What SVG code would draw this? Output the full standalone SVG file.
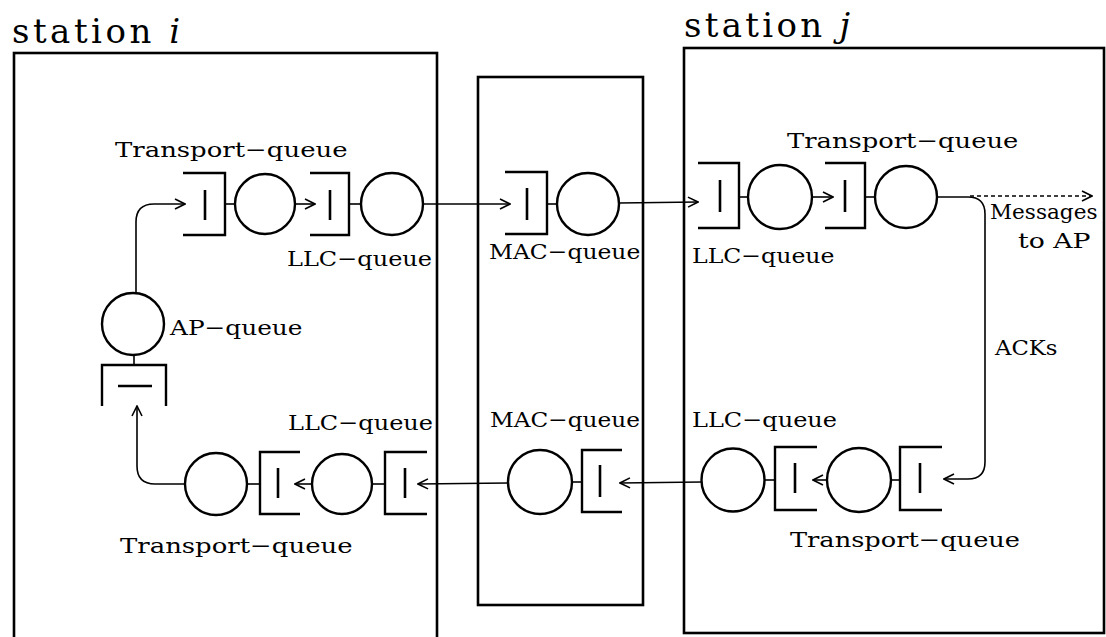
<svg xmlns="http://www.w3.org/2000/svg" width="1106" height="637" viewBox="0 0 1106 637">
<defs>
<style>
.box{fill:none;stroke:#000;stroke-width:2.6}
.q{fill:none;stroke:#000;stroke-width:2.4}
.bar{stroke:#000;stroke-width:2.6}
.c{fill:none;stroke:#000;stroke-width:1.6}
.dash{stroke-dasharray:4 3}
text{font-family:"DejaVu Serif","Liberation Serif",serif;fill:#000}
.lbl{font-size:21px}
.st{font-size:34px}
</style>
<marker id="arr" viewBox="0 0 12 12" refX="11" refY="6" markerWidth="12" markerHeight="12" markerUnits="userSpaceOnUse" orient="auto">
<path d="M1 1 L11 6 L1 11" fill="none" stroke="#000" stroke-width="1.6"/>
</marker>
</defs>
<rect width="1106" height="637" fill="#fff"/>

<g id="station-i">
<rect class="box" x="14" y="53" width="423" height="600"/>
<text class="st" x="12" y="43" textLength="168" lengthAdjust="spacing">station <tspan font-style="italic">i</tspan></text>
</g>
<g id="mac-layer">
<rect class="box" x="478" y="77" width="165" height="528"/>
</g>
<g id="station-j">
<rect class="box" x="684" y="48" width="420" height="585"/>
<text class="st" x="684" y="37" textLength="166" lengthAdjust="spacing">station <tspan font-style="italic">j</tspan></text>
</g>

<!-- station i top row -->
<g id="i-transport-top">
<path class="q" d="M183 173 H225 V235 H183"/>
<line class="bar" x1="205" y1="190" x2="205" y2="220"/>
<line class="c" x1="225" y1="204" x2="235" y2="204"/>
<circle class="q" cx="265" cy="204" r="30"/>
<text class="lbl" transform="translate(115 157) scale(1.25 1)" textLength="186" lengthAdjust="spacingAndGlyphs">Transport−queue</text>
</g>
<g id="i-llc-top">
<path class="q" d="M310 173 H349 V235 H310"/>
<line class="bar" x1="330" y1="190" x2="330" y2="220"/>
<line class="c" x1="349" y1="204" x2="361" y2="204"/>
<circle class="q" cx="392" cy="204" r="31"/>
<text class="lbl" transform="translate(287 266) scale(1.25 1)" textLength="116" lengthAdjust="spacingAndGlyphs">LLC−queue</text>
</g>
<g id="mac-top">
<path class="q" d="M505 172 H547 V234 H505"/>
<line class="bar" x1="527" y1="188" x2="527" y2="220"/>
<line class="c" x1="547" y1="204" x2="557" y2="204"/>
<circle class="q" cx="588" cy="204" r="31"/>
<text class="lbl" transform="translate(489 259) scale(1.25 1)" textLength="121" lengthAdjust="spacingAndGlyphs">MAC−queue</text>
</g>
<g id="j-llc-top">
<path class="q" d="M698 163 H739 V228 H698"/>
<line class="bar" x1="720" y1="180" x2="720" y2="212"/>
<line class="c" x1="739" y1="197" x2="748" y2="197"/>
<circle class="q" cx="780" cy="197" r="32"/>
<text class="lbl" transform="translate(692 263) scale(1.25 1)" textLength="114" lengthAdjust="spacingAndGlyphs">LLC−queue</text>
</g>
<g id="j-transport-top">
<path class="q" d="M825 163 H865 V228 H825"/>
<line class="bar" x1="845" y1="180" x2="845" y2="212"/>
<line class="c" x1="865" y1="197" x2="875" y2="197"/>
<circle class="q" cx="906" cy="197" r="31"/>
<text class="lbl" transform="translate(787 148) scale(1.25 1)" textLength="185" lengthAdjust="spacingAndGlyphs">Transport−queue</text>
</g>

<!-- AP -->
<g id="ap-queue">
<circle class="q" cx="133" cy="324" r="31"/>
<line class="c" x1="134" y1="355" x2="134" y2="365"/>
<path class="q" d="M102 406 V365 H166 V406"/>
<line class="bar" x1="118" y1="386" x2="152" y2="386"/>
<text class="lbl" transform="translate(170 335) scale(1.25 1)" textLength="106" lengthAdjust="spacingAndGlyphs">AP−queue</text>
</g>

<!-- bottom row -->
<g id="i-transport-bottom">
<circle class="q" cx="216" cy="484" r="31"/>
<line class="c" x1="247" y1="484" x2="260" y2="484"/>
<path class="q" d="M300 452 H260 V514 H300"/>
<line class="bar" x1="278" y1="468" x2="278" y2="498"/>
<text class="lbl" transform="translate(120 553) scale(1.25 1)" textLength="186" lengthAdjust="spacingAndGlyphs">Transport−queue</text>
</g>
<g id="i-llc-bottom">
<circle class="q" cx="342" cy="484" r="30"/>
<line class="c" x1="372" y1="484" x2="385" y2="484"/>
<path class="q" d="M427 452 H385 V514 H427"/>
<line class="bar" x1="405" y1="468" x2="405" y2="498"/>
<text class="lbl" transform="translate(288 430) scale(1.25 1)" textLength="116" lengthAdjust="spacingAndGlyphs">LLC−queue</text>
</g>
<g id="mac-bottom">
<circle class="q" cx="540" cy="482" r="32"/>
<line class="c" x1="572" y1="482" x2="582" y2="482"/>
<path class="q" d="M622 450 H582 V512 H622"/>
<line class="bar" x1="600" y1="465" x2="600" y2="497"/>
<text class="lbl" transform="translate(490 427) scale(1.25 1)" textLength="120" lengthAdjust="spacingAndGlyphs">MAC−queue</text>
</g>
<g id="j-llc-bottom">
<circle class="q" cx="733" cy="480" r="31.5"/>
<line class="c" x1="764" y1="480" x2="775" y2="480"/>
<path class="q" d="M817 447 H775 V510 H817"/>
<line class="bar" x1="795" y1="463" x2="795" y2="493"/>
<text class="lbl" transform="translate(692 427) scale(1.25 1)" textLength="116" lengthAdjust="spacingAndGlyphs">LLC−queue</text>
</g>
<g id="j-transport-bottom">
<circle class="q" cx="859" cy="480" r="32"/>
<line class="c" x1="891" y1="480" x2="900" y2="480"/>
<path class="q" d="M942 447 H900 V510 H942"/>
<line class="bar" x1="920" y1="463" x2="920" y2="493"/>
<text class="lbl" transform="translate(790 547) scale(1.25 1)" textLength="184" lengthAdjust="spacingAndGlyphs">Transport−queue</text>
</g>

<g id="labels">
<text class="lbl" transform="translate(990 219) scale(1.25 1)" textLength="86" lengthAdjust="spacingAndGlyphs">Messages</text>
<text class="lbl" transform="translate(1018 248) scale(1.25 1)" textLength="58" lengthAdjust="spacingAndGlyphs">to AP</text>
<text class="lbl" transform="translate(995 355) scale(1.25 1)" textLength="50" lengthAdjust="spacingAndGlyphs">ACKs</text>
</g>

<g id="connectors">
<path class="c" d="M136 293 V222 Q136 204 154 204 H185" marker-end="url(#arr)"/>
<line class="c" x1="295" y1="204" x2="315" y2="204" marker-end="url(#arr)"/>
<line class="c" x1="423" y1="204" x2="510" y2="204" marker-end="url(#arr)"/>
<line class="c" x1="619" y1="203" x2="698" y2="202" marker-end="url(#arr)"/>
<line class="c" x1="812" y1="197" x2="833" y2="197" marker-end="url(#arr)"/>
<path class="c" d="M937 197 H968 Q985 197 985 214 V462 Q985 479 968 479 H944" marker-end="url(#arr)"/>
<line class="c dash" x1="970" y1="196" x2="1092" y2="196" marker-end="url(#arr)"/>
<line class="c" x1="827" y1="480" x2="813" y2="480" marker-end="url(#arr)"/>
<line class="c" x1="702" y1="482" x2="620" y2="483" marker-end="url(#arr)"/>
<line class="c" x1="508" y1="483" x2="418" y2="484" marker-end="url(#arr)"/>
<line class="c" x1="312" y1="484" x2="295" y2="484" marker-end="url(#arr)"/>
<path class="c" d="M185 484 H155 Q137 484 137 466 V406" marker-end="url(#arr)"/>
</g>
</svg>
